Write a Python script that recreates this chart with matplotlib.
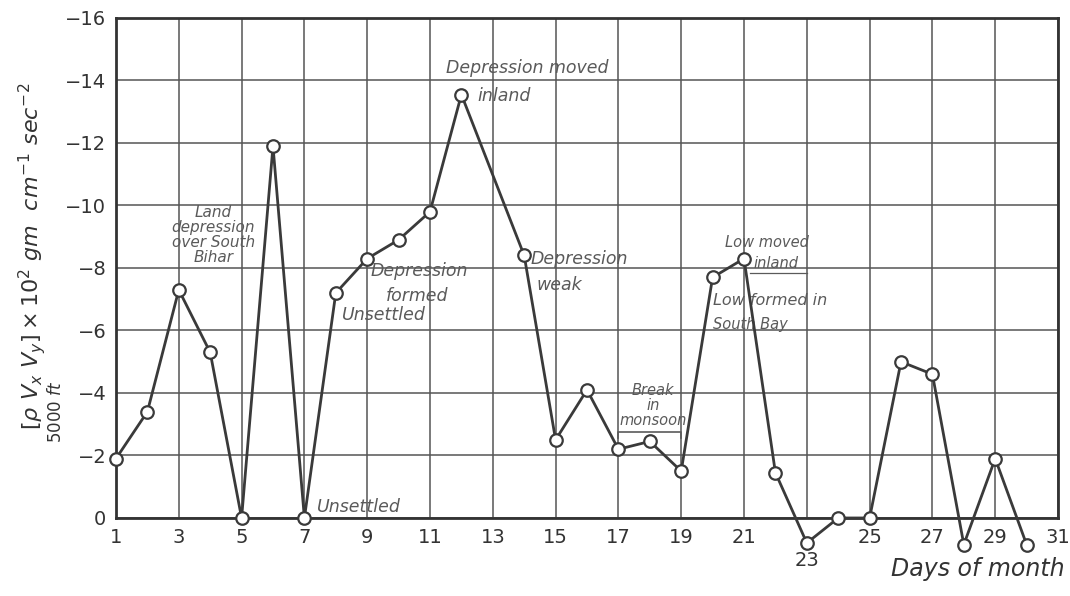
import matplotlib
matplotlib.use("Agg")
import matplotlib.pyplot as plt
import numpy as np

days = [1, 2, 3, 4, 5, 6, 7, 8, 9, 10, 11, 12, 14, 15, 16, 17, 18, 19, 20, 21, 22, 23, 24, 25, 26, 27, 28, 29, 30]
values = [-1.9, -3.4, -7.3, -5.3, 0.0, -11.9, 0.0, -7.2, -8.3, -8.9, -9.8, -13.55, -8.4, -2.5, -4.1, -2.2, -2.45, -1.5,
          -7.7, -8.3, -1.45, 0.8, 0.0, 0.0, -5.0, -4.6, 0.85, -1.9, 0.85]
xticks = list(range(1, 32, 2))
yticks = list(range(0, -17, -2))
ytick_labels = ["0"] + ["\u2212%d" % abs(v) for v in yticks[1:]]

ink = "#3a3a3a"
note = "#5a5a5a"

fig = plt.figure(figsize=(10.70, 5.96), dpi=100)
ax = fig.add_axes([0.1084, 0.1309, 0.8804, 0.8389])
ax.set_xlim(1, 31)
ax.set_ylim(0, -16)

ax.set_xticks(xticks)
ax.set_xticklabels([str(t) if t != 23 else "" for t in xticks])
ax.set_yticks(yticks)
ax.set_yticklabels(ytick_labels)
ax.tick_params(axis="both", length=0, labelsize=14, colors="#333333", pad=7)
ax.text(23, 1.05, "23", ha="center", va="top", fontsize=14, color="#333333")

ax.grid(True, color="#555555", linewidth=1.1)
for s in ax.spines.values():
    s.set_color("#333333")
    s.set_linewidth(2)

ax.plot(days, values, color=ink, linewidth=2, marker="o", markersize=9,
        markerfacecolor="white", markeredgecolor=ink, markeredgewidth=1.6,
        clip_on=False, zorder=5)

# Break in monsoon bracket
ax.plot([17, 17, 19, 19], [-2.55, -2.75, -2.75, -2.55], color=note, linewidth=1.2, zorder=4)

fs = 12.5
kw = dict(fontsize=fs, color=note, style="italic", family="DejaVu Sans")
ax.text(4.1, -10.0, "Land\ndepression\nover South\nBihar", ha="center", va="top", linespacing=1.0, fontsize=11, color=note, style="italic")
ax.text(7.4, -0.35, "Unsettled", ha="left", va="center", **kw)
ax.text(8.2, -6.5, "Unsettled", ha="left", va="center", **kw)
ax.text(9.1, -7.9, "Depression", ha="left", va="center", **kw)
ax.text(9.6, -7.1, "formed", ha="left", va="center", **kw)
ax.text(11.5, -14.4, "Depression moved", ha="left", va="center", **kw)
ax.text(12.5, -13.5, "inland", ha="left", va="center", **kw)
ax.text(14.2, -8.3, "Depression", ha="left", va="center", **kw)
ax.text(14.4, -7.45, "weak", ha="left", va="center", **kw)
ax.text(18.1, -3.6, "Break\nin\nmonsoon", ha="center", va="center", linespacing=1.0, fontsize=10.5, color=note, style="italic")
ax.text(20.4, -8.8, "Low moved", ha="left", va="center", fontsize=10.5, color=note, style="italic")
ax.text(21.3, -8.15, "inland", ha="left", va="center", fontsize=10.5, color=note, style="italic")
ax.plot([21.2, 23.0], [-7.85, -7.85], color=note, linewidth=0.9)
ax.text(20.0, -6.95, "Low formed in", ha="left", va="center", fontsize=11.5, color=note, style="italic")
ax.text(20.0, -6.2, "South Bay", ha="left", va="center", fontsize=10.5, color=note, style="italic")

fig.text(0.030, 0.57, r"$[\rho\ V_x\ V_y]\times10^2\ gm\ \ cm^{-1}\ sec^{-2}$",
         rotation=90, ha="center", va="center", fontsize=16, color="#333333")
fig.text(0.052, 0.31, r"$5000\ ft$", rotation=90, ha="center", va="center", fontsize=12, color="#333333")
fig.text(0.995, 0.025, "Days of month", ha="right", va="bottom", fontsize=17, style="italic", color="#333333")

fig.savefig("out.png", dpi=100, facecolor="white")
